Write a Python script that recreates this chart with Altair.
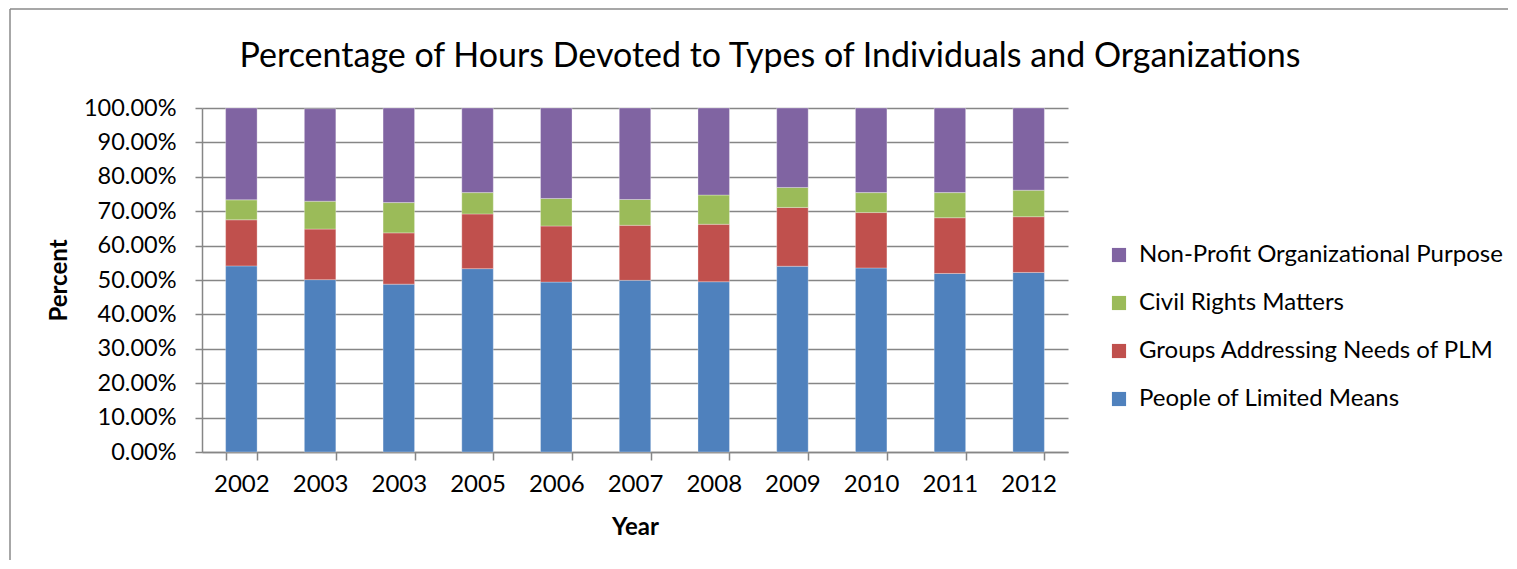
import altair as alt
import pandas as pd

years = ["2002", "2003", "2003", "2005", "2006", "2007", "2008", "2009", "2010", "2011", "2012"]
series = ["Non-Profit Organizational Purpose", "Civil Rights Matters",
          "Groups Addressing Needs of PLM", "People of Limited Means"]
colors = ["#8064A2", "#9BBB59", "#C0504D", "#4F81BD"]
title_text = "Percentage of Hours Devoted to Types of Individuals and Organizations"

plm = [54.1, 50.1, 48.8, 53.3, 49.4, 49.9, 49.5, 54.0, 53.5, 51.9, 52.2]
groups = [13.4, 14.7, 14.9, 15.9, 16.3, 16.0, 16.7, 17.1, 16.1, 16.2, 16.2]
civil = [5.8, 8.1, 8.8, 6.2, 8.0, 7.5, 8.5, 5.8, 5.8, 7.3, 7.7]
nonprofit = [26.7, 26.9, 27.5, 24.6, 26.3, 26.6, 25.3, 23.1, 24.6, 24.6, 23.9]

rows = []
for i, y in enumerate(years):
    for order, (name, vals) in enumerate([
        ("People of Limited Means", plm),
        ("Groups Addressing Needs of PLM", groups),
        ("Civil Rights Matters", civil),
        ("Non-Profit Organizational Purpose", nonprofit),
    ]):
        rows.append({"idx": i, "year": y, "series": name, "order": order, "pct": vals[i]})
df = pd.DataFrame(rows)

FONT = "Lato"
FS = 24
label_expr = "[" + ",".join("'%s'" % y for y in years) + "][datum.value]"

bars = alt.Chart(df).transform_calculate(
    frac="datum.pct / 100"
).mark_bar(stroke="#ffffff", strokeWidth=0.5, strokeOpacity=0.6).encode(
    x=alt.X("idx:O",
            scale=alt.Scale(paddingInner=0.6, paddingOuter=0.3),
            axis=alt.Axis(title="Year", labelExpr=label_expr, labelAngle=0,
                          tickBand="extent", tickSize=8, tickColor="#868686",
                          tickWidth=1.5, domainColor="#868686", domainWidth=1.5,
                          labelFontSize=FS, labelFont=FONT, labelColor="#000000",
                          labelPadding=12, titleFontSize=FS, titleFont=FONT,
                          titleFontWeight="bold", titleColor="#000000",
                          titlePadding=19, grid=False, labelOverlap=False)),
    y=alt.Y("frac:Q", stack="zero",
            scale=alt.Scale(domain=[0, 1], nice=False),
            axis=alt.Axis(title="Percent", format=".2%",
                          values=[i / 10 for i in range(11)],
                          labelOverlap=False,
                          tickSize=7, tickColor="#868686", tickWidth=1.5,
                          domainColor="#868686", domainWidth=1.5,
                          gridColor="#868686", gridWidth=1.5,
                          labelFontSize=23.5, labelFont=FONT, labelColor="#000000",
                          labelPadding=19, titleFontSize=FS, titleFont=FONT,
                          titleFontWeight="bold", titleColor="#000000",
                          titlePadding=12)),
    color=alt.Color("series:N",
                    scale=alt.Scale(domain=series, range=colors),
                    legend=alt.Legend(title=None, orient="none", legendX=905,
                                      legendY=135, symbolType="square",
                                      symbolSize=200, symbolStrokeWidth=0,
                                      labelFontSize=FS, labelFont=FONT,
                                      labelColor="#000000", rowPadding=24,
                                      labelOffset=8, labelLimit=600)),
    order=alt.Order("order:Q", sort="ascending"),
)

one = pd.DataFrame({"k": [0]})
title = alt.Chart(one).mark_text(
    font=FONT, fontSize=34, color="#000000", align="center", baseline="middle"
).encode(x=alt.value(568), y=alt.value(-51), text=alt.value(title_text))

border_left = alt.Chart(one).mark_rule(
    color="#8a8a8a", strokeWidth=1.5).encode(
    x=alt.value(-192), y=alt.value(-99), y2=alt.value(453))
border_top = alt.Chart(one).mark_rule(
    color="#8a8a8a", strokeWidth=1.5).encode(
    x=alt.value(-192), x2=alt.value(1307), y=alt.value(-99))

chart = alt.layer(bars, title, border_left, border_top).properties(
    width=866, height=344,
    padding={"left": 194, "top": 100, "right": 440, "bottom": 108},
    autosize=alt.AutoSizeParams(type="none"),
).configure_view(stroke=None)

chart.save("out.html", embed_options={"renderer": "svg", "actions": False})
